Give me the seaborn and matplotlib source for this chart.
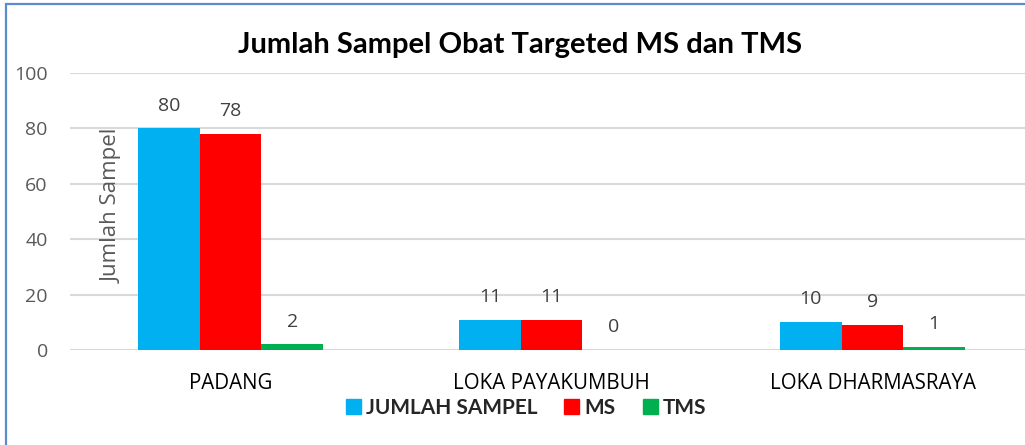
import matplotlib
matplotlib.use("Agg")
import matplotlib.pyplot as plt
import pandas as pd
import seaborn as sns
from matplotlib.patches import Rectangle

categories = ["PADANG", "LOKA PAYAKUMBUH", "LOKA DHARMASRAYA"]
series = ["JUMLAH SAMPEL", "MS", "TMS"]
jumlah_sampel = [80, 11, 10]
ms = [78, 11, 9]
tms = [2, 0, 1]
colors = ["#00B0F0", "#FF0000", "#00B050"]

df = pd.DataFrame({
    "lokasi": categories * 3,
    "seri": [s for s in series for _ in categories],
    "nilai": jumlah_sampel + ms + tms,
})

sns.set_theme(style="white")
plt.rcParams["font.family"] = ["Open Sans", "DejaVu Sans"]

fig = plt.figure(figsize=(10.25, 4.45), dpi=100)
ax = fig.add_axes([70 / 1025, 1 - 350 / 445, 963 / 1025, 277 / 445])

sns.barplot(
    data=df, x="lokasi", y="nilai", hue="seri",
    order=categories, hue_order=series, palette=colors, saturation=1,
    width=0.576, linewidth=0, ax=ax, legend=False,
)

for cont in ax.containers:
    ax.bar_label(cont, padding=10, fontsize=14, color="#404040")

ax.set_ylim(0, 100)
ax.set_yticks(range(0, 101, 20))
ax.grid(axis="y", color="#D9D9D9", linewidth=1.5)
ax.set_axisbelow(True)
for side in ["top", "right", "left", "bottom"]:
    ax.spines[side].set_visible(False)
ax.tick_params(axis="y", length=0, labelsize=14, labelcolor="#595959", pad=16)
ax.tick_params(axis="x", length=0, labelsize=14.8, labelcolor="#000000", pad=16.5)
ax.set_xlabel("")
ax.set_ylabel("Jumlah Sampel", fontsize=16, color="#595959")
ax.yaxis.set_label_coords(0.055, 0.52)

fig.text(520 / 1025, 1 - 45 / 445, "Jumlah Sampel Obat Targeted MS dan TMS",
         ha="center", va="center", fontsize=21, fontweight="bold", color="#000000",
         family=["Lato", "DejaVu Sans"])

handles = [Rectangle((0, 0), 1, 1, color=c) for c in colors]
leg = fig.legend(handles, series, loc="center", bbox_to_anchor=(526 / 1025, 1 - 408 / 445),
                 ncol=3, frameon=False, handlelength=0.72, handleheight=0.72,
                 handletextpad=0.25, columnspacing=1.3,
                 prop={"size": 15, "weight": "bold", "family": ["Lato", "DejaVu Sans"]})

fig.add_artist(Rectangle((6 / 1025, -0.1), 1.2, 1.1 - 4 / 445, transform=fig.transFigure,
                         fill=False, edgecolor="#5B8CCB", linewidth=1.6))

fig.savefig("out.png", dpi=100)
